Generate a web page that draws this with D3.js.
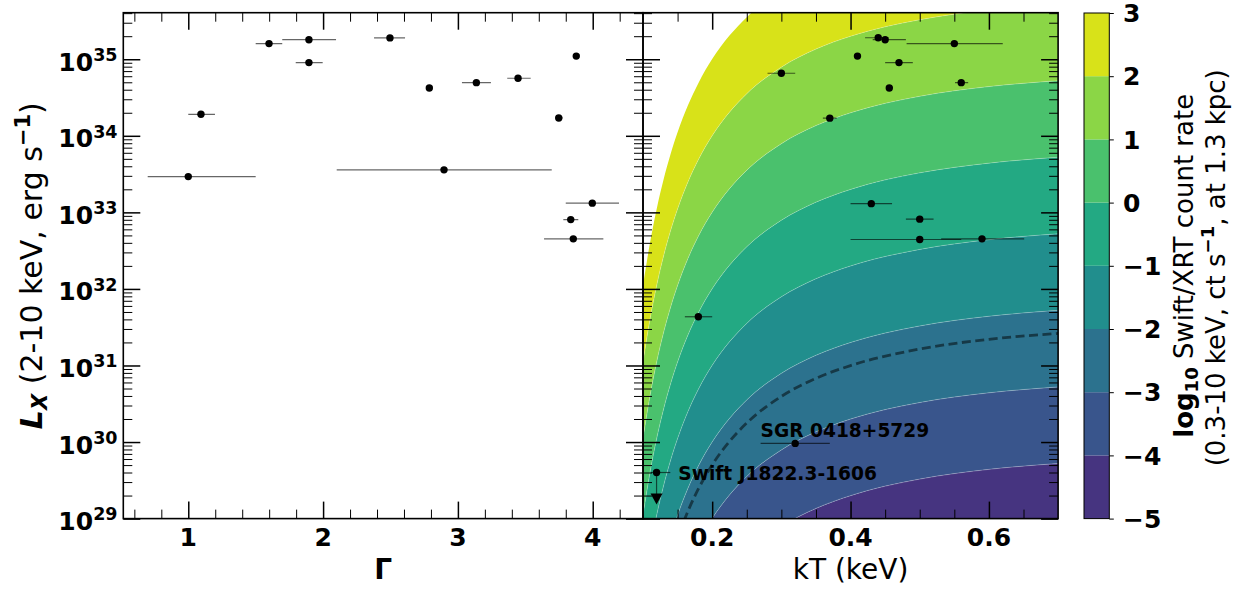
<!DOCTYPE html>
<html>
<head>
<meta charset="utf-8">
<script src="https://cdn.jsdelivr.net/npm/d3@7"></script>
<style>
  body { margin: 0; background: #fff; }
  svg { display: block; }
  text { font-family: "DejaVu Sans", sans-serif; fill: #000; }
</style>
</head>
<body>
<svg id="fig" width="1243" height="590"></svg>
<script>
// ---- Power-law fits: photon index and 2-10 keV luminosity ----
const plGamma   = [1.000, 1.094, 1.599, 1.895, 1.895, 2.496, 2.788, 3.137, 3.446, 3.748, 3.878, 2.897, 3.997, 3.837, 3.856];
const plGammaLo = [0.699, 1.000, 1.500, 1.697, 1.797, 2.378, null,  3.030, 3.366, 3.720, null,  2.101, 3.800, 3.782, 3.639];
const plGammaHi = [1.500, 1.198, 1.697, 2.096, 1.997, 2.608, null,  3.245, 3.540, 3.777, null,  3.696, 4.195, 3.893, 4.079];
const plLx      = [2.93e33, 1.91e34, 1.60e35, 1.80e35, 9.04e34, 1.90e35, 4.22e34, 4.95e34, 5.65e34, 1.71e34, 1.10e35, 3.59e33, 1.32e33, 8.05e32, 4.51e32];

// ---- Blackbody fits: temperature and 2-10 keV luminosity ----
const bbKT   = [0.300, 0.370, 0.410, 0.440, 0.450, 0.470, 0.456, 0.550, 0.560, 0.430, 0.500, 0.500, 0.590, 0.180, 0.320, 0.1196];
const bbKTLo = [0.280, 0.360, null,  0.421, 0.432, 0.450, 0.452, 0.481, 0.551, 0.400, 0.480, 0.400, 0.531, 0.1605, 0.270, 0.1115];
const bbKTHi = [0.320, 0.380, null,  0.455, 0.480, 0.490, 0.461, 0.620, 0.570, 0.460, 0.520, 0.560, 0.651, 0.200, 0.370, 0.1395];
const bbLx   = [6.56e34, 1.70e34, 1.10e35, 1.91e35, 1.80e35, 9.04e34, 4.22e34, 1.60e35, 4.95e34, 1.30e33, 8.15e32, 4.42e32, 4.51e32, 4.33e31, 9.6e29, 4.0e29];
const bbUpperLimit = [false, false, false, false, false, false, false, false, false, false, false, false, false, false, false, true];
const bbNames = ["", "", "", "", "", "", "", "", "", "", "", "", "", "", "SGR 0418+5729", "Swift J1822.3-1606"];

// ---- Swift/XRT rate grid: log10 Lx (2-10 keV) giving 1 ct/s (0.3-10 keV) at 1.3 kpc ----
const rateKT    = [0.10, 0.11, 0.12, 0.13, 0.14, 0.15, 0.165, 0.18, 0.20, 0.225, 0.25, 0.30, 0.35, 0.40, 0.50, 0.60, 0.70];
const rateLogLx = [29.043, 29.597, 30.055, 30.439, 30.765, 31.045, 31.398, 31.688, 32.002, 32.309, 32.550, 32.897, 33.133, 33.300, 33.516, 33.643, 33.720];
const rateLevels = [-5, -4, -3, -2, -1, 0, 1, 2, 3];
const limitRate = 0.005;               // ct/s, dashed curve
const colorDomain = [-5.83, 3.03];

// ---- Axis ranges and ticks ----
const gammaDomain = [0.518, 4.373];
const ktDomain = [0.1, 0.7];
const lxDomain = [1e29, 4.055e35];
const gammaTicks = [1, 2, 3, 4];
const gammaMinor = [0.6, 0.8, 1.2, 1.4, 1.6, 1.8, 2.2, 2.4, 2.6, 2.8, 3.2, 3.4, 3.6, 3.8, 4.2];
const ktTicks = [0.2, 0.4, 0.6];
const ktTickLabels = ["0.2", "0.4", "0.6"];
const ktMinor = [0.15, 0.25, 0.3, 0.35, 0.45, 0.5, 0.55, 0.65];
const lxExponents = [29, 30, 31, 32, 33, 34, 35];
const cbarTicks = [-5, -4, -3, -2, -1, 0, 1, 2, 3];

// ---- Layout ----
const svg = d3.select("#fig");
const yTop = 12.7, yBottom = 518.6;
const L = { x0: 123.3, x1: 643 };
const R = { x0: 643, x1: 1058.1 };
const CB = { x0: 1084, x1: 1109.3, top: 13, bottom: 518.6 };

const xG = d3.scaleLinear().domain(gammaDomain).range([L.x0, L.x1]);
const xK = d3.scaleLinear().domain(ktDomain).range([R.x0, R.x1]);
const y = d3.scaleLog().domain(lxDomain).range([yBottom, yTop]);
const color = d3.scaleSequential(d3.interpolateViridis).domain(colorDomain);
const cbY = d3.scaleLinear().domain([cbarTicks[0], cbarTicks[cbarTicks.length - 1]]).range([CB.bottom, CB.top]);

const lxMajor = lxExponents.map(e => Math.pow(10, e));
const lxMinor = [];
lxExponents.forEach(e => { for (let m = 2; m <= 9; m++) { const v = m * Math.pow(10, e); if (v <= lxDomain[1]) lxMinor.push(v); } });

const defs = svg.append("defs");
defs.append("clipPath").attr("id", "clipR").append("rect")
  .attr("x", R.x0).attr("y", yTop).attr("width", R.x1 - R.x0).attr("height", yBottom - yTop);
defs.append("clipPath").attr("id", "clipL").append("rect")
  .attr("x", L.x0).attr("y", yTop).attr("width", L.x1 - L.x0).attr("height", yBottom - yTop);

// ---- Count-rate bands in the kT panel ----
const rows = rateKT.map((k, i) => ({ kT: k, g: rateLogLx[i] }));
const gBands = svg.append("g").attr("clip-path", "url(#clipR)");
for (let i = 0; i < rateLevels.length - 1; i++) {
  const lo = rateLevels[i], hi = rateLevels[i + 1];
  const area = d3.area()
    .x(d => xK(d.kT))
    .y0(d => y(Math.pow(10, d.g + lo)))
    .y1(d => y(Math.pow(10, d.g + hi)))
    .curve(d3.curveMonotoneX);
  gBands.append("path").attr("d", area(rows)).attr("fill", color((lo + hi) / 2)).attr("stroke", "none");
}
// thin light seams between filled levels
rateLevels.slice(1, -1).forEach(lv => {
  const line = d3.line().x(d => xK(d.kT)).y(d => y(Math.pow(10, d.g + lv))).curve(d3.curveMonotoneX);
  gBands.append("path").attr("d", line(rows)).attr("fill", "none")
    .attr("stroke", "#fff").attr("stroke-opacity", 0.35).attr("stroke-width", 0.7);
});
// detection-limit curve
const limLv = Math.log10(limitRate);
const limLine = d3.line().x(d => xK(d.kT)).y(d => y(Math.pow(10, d.g + limLv))).curve(d3.curveMonotoneX);
gBands.append("path").attr("d", limLine(rows)).attr("fill", "none")
  .attr("stroke", "#000").attr("stroke-opacity", 0.5).attr("stroke-width", 2.8)
  .attr("stroke-dasharray", "9,4.5");

// ---- Ticks ----
function tickSet(g, axisFn, scale, values, size, width) {
  g.call(axisFn(scale).tickValues(values).tickSize(size).tickFormat(""));
  g.select(".domain").remove();
  g.selectAll("text").remove();
  g.selectAll("line").attr("stroke", "#000").attr("stroke-width", width);
}
function panelTicks(xs, xMaj, xMin, x0, x1) {
  tickSet(svg.append("g").attr("transform", `translate(0,${yBottom})`), d3.axisBottom, xs, xMaj, -17, 1.5);
  tickSet(svg.append("g").attr("transform", `translate(0,${yBottom})`), d3.axisBottom, xs, xMin, -9, 1);
  tickSet(svg.append("g").attr("transform", `translate(0,${yTop})`), d3.axisTop, xs, xMaj, -17, 1.5);
  tickSet(svg.append("g").attr("transform", `translate(0,${yTop})`), d3.axisTop, xs, xMin, -9, 1);
  tickSet(svg.append("g").attr("transform", `translate(${x0},0)`), d3.axisLeft, y, lxMajor, -17, 1.5);
  tickSet(svg.append("g").attr("transform", `translate(${x0},0)`), d3.axisLeft, y, lxMinor, -9, 1);
  tickSet(svg.append("g").attr("transform", `translate(${x1},0)`), d3.axisRight, y, lxMajor, -17, 1.5);
  tickSet(svg.append("g").attr("transform", `translate(${x1},0)`), d3.axisRight, y, lxMinor, -9, 1);
}

// ---- Error bars and points ----
const ebStyle = sel => sel.attr("stroke", "#000").attr("stroke-opacity", 0.6).attr("stroke-width", 1.2);

const gL = svg.append("g").attr("clip-path", "url(#clipL)");
plGamma.forEach((gm, i) => {
  if (plGammaLo[i] !== null) {
    ebStyle(gL.append("line").attr("x1", xG(plGammaLo[i])).attr("x2", xG(plGammaHi[i]))
      .attr("y1", y(plLx[i])).attr("y2", y(plLx[i])));
  }
});
gL.selectAll("circle.pl").data(plGamma).join("circle").attr("class", "pl")
  .attr("cx", d => xG(d)).attr("cy", (d, i) => y(plLx[i])).attr("r", 3.7).attr("fill", "#000");

const gR = svg.append("g").attr("clip-path", "url(#clipR)");
bbKT.forEach((k, i) => {
  const cy = y(bbLx[i]);
  if (bbKTLo[i] !== null) {
    ebStyle(gR.append("line").attr("x1", xK(bbKTLo[i])).attr("x2", xK(bbKTHi[i])).attr("y1", cy).attr("y2", cy));
  }
  if (bbUpperLimit[i]) {
    const cx = xK(k), tip = cy + 32;
    ebStyle(gR.append("line").attr("x1", cx).attr("x2", cx).attr("y1", cy).attr("y2", tip - 8));
    gR.append("path").attr("d", `M${cx - 6},${tip - 11}L${cx + 6},${tip - 11}L${cx},${tip}Z`).attr("fill", "#000");
  }
});
gR.selectAll("circle.bb").data(bbKT).join("circle").attr("class", "bb")
  .attr("cx", d => xK(d)).attr("cy", (d, i) => y(bbLx[i])).attr("r", 3.7).attr("fill", "#000");

// source names
bbNames.forEach((name, i) => {
  if (!name) return;
  const cy = y(bbLx[i]);
  const t = svg.append("text").style("font-size", "18.6px").style("font-weight", "bold").text(name);
  if (bbUpperLimit[i]) t.attr("x", xK(bbKTHi[i]) + 8).attr("y", cy + 7.5);
  else t.attr("x", xK(bbKTLo[i])).attr("y", cy - 6.7);
});

// ---- Frames and ticks ----
panelTicks(xG, gammaTicks, gammaMinor, L.x0, L.x1);
panelTicks(xK, ktTicks, ktMinor, R.x0, R.x1);
svg.append("rect").attr("x", L.x0).attr("y", yTop).attr("width", L.x1 - L.x0).attr("height", yBottom - yTop)
  .attr("fill", "none").attr("stroke", "#000").attr("stroke-width", 1.6);
svg.append("rect").attr("x", R.x0).attr("y", yTop).attr("width", R.x1 - R.x0).attr("height", yBottom - yTop)
  .attr("fill", "none").attr("stroke", "#000").attr("stroke-width", 1.6);

// ---- Tick labels ----
gammaTicks.forEach(v => {
  svg.append("text").attr("x", xG(v)).attr("y", 545.5).attr("text-anchor", "middle")
    .style("font-size", "25px").style("font-weight", "bold").text(v);
});
ktTicks.forEach((v, i) => {
  svg.append("text").attr("x", xK(v)).attr("y", 545.5).attr("text-anchor", "middle")
    .style("font-size", "25px").style("font-weight", "bold").text(ktTickLabels[i]);
});
lxExponents.forEach(e => {
  const t = svg.append("text").attr("x", 117.5).attr("y", y(Math.pow(10, e)) + 11.5).attr("text-anchor", "end")
    .style("font-size", "25px").style("font-weight", "bold");
  t.append("tspan").text("10");
  t.append("tspan").attr("dy", -9.7).style("font-size", "17.5px").text(e);
});

// ---- Axis titles ----
svg.append("text").attr("x", (L.x0 + L.x1) / 2).attr("y", 579).attr("text-anchor", "middle")
  .style("font-size", "28px").style("font-weight", "bold").text("Γ");
svg.append("text").attr("x", (R.x0 + R.x1) / 2).attr("y", 579).attr("text-anchor", "middle")
  .style("font-size", "28px").text("kT (keV)");

const yl = svg.append("text").attr("transform", `translate(42,${(yTop + yBottom) / 2}) rotate(-90)`)
  .attr("text-anchor", "middle").style("font-size", "30px");
yl.append("tspan").style("font-weight", "bold").style("font-style", "italic").text("L");
yl.append("tspan").style("font-weight", "bold").style("font-style", "italic").style("font-size", "21px").attr("dy", 5).text("X");
yl.append("tspan").attr("dy", -5).text(" (2-10 keV, erg s");
yl.append("tspan").style("font-weight", "bold").style("font-size", "21px").attr("dy", -12).text("−1");
yl.append("tspan").attr("dy", 12).text(")");

// ---- Colour bar ----
for (let i = 0; i < cbarTicks.length - 1; i++) {
  const lo = cbarTicks[i], hi = cbarTicks[i + 1];
  svg.append("rect").attr("x", CB.x0).attr("width", CB.x1 - CB.x0)
    .attr("y", cbY(hi)).attr("height", cbY(lo) - cbY(hi)).attr("fill", color((lo + hi) / 2));
}
svg.append("rect").attr("x", CB.x0).attr("y", CB.top).attr("width", CB.x1 - CB.x0).attr("height", CB.bottom - CB.top)
  .attr("fill", "none").attr("stroke", "#000").attr("stroke-width", 1);
const cbAxis = svg.append("g").attr("transform", `translate(${CB.x1},0)`);
cbAxis.call(d3.axisRight(cbY).tickValues(cbarTicks).tickSize(4.5).tickFormat(""));
cbAxis.select(".domain").remove();
cbAxis.selectAll("line").attr("stroke", "#000").attr("stroke-width", 1);
cbarTicks.forEach(v => {
  svg.append("text").attr("x", 1123).attr("y", cbY(v) + 9.2)
    .style("font-size", "25px").style("font-weight", "bold").text(v < 0 ? "−" + Math.abs(v) : String(v));
});
const cbl1 = svg.append("text").attr("transform", `translate(1192.5,${(CB.top + CB.bottom) / 2}) rotate(-90)`)
  .attr("text-anchor", "middle").style("font-size", "26px");
cbl1.append("tspan").style("font-weight", "bold").text("log");
cbl1.append("tspan").style("font-weight", "bold").style("font-size", "18px").attr("dy", 5).text("10");
cbl1.append("tspan").attr("dy", -5).text(" Swift/XRT count rate");
const cbl2 = svg.append("text").attr("transform", `translate(1224.5,${(CB.top + CB.bottom) / 2 + 2}) rotate(-90)`)
  .attr("text-anchor", "middle").style("font-size", "26px");
cbl2.append("tspan").text("(0.3-10 keV, ct s");
cbl2.append("tspan").style("font-weight", "bold").style("font-size", "18px").attr("dy", -11).text("−1");
cbl2.append("tspan").attr("dy", 11).text(", at 1.3 kpc)");
</script>
</body>
</html>
